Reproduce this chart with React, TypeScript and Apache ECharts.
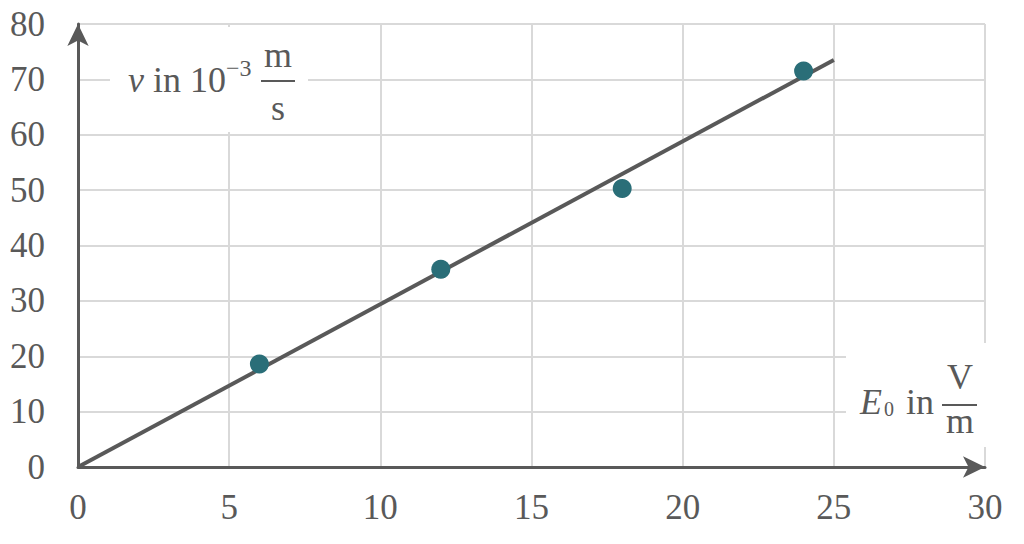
import React, { useEffect, useRef } from "react";
import * as echarts from "echarts";

// Measured data points (E0 in V/m, v in 10^-3 m/s)
const measuredE = [6, 12, 18, 24];
const measuredV = [18.6, 35.7, 50.3, 71.5];
// Proportional fit line endpoints
const fitE = [0, 25];
const fitV = [0, 73.5];
// Axis ranges
const xRange = [0, 30];
const yRange = [0, 80];
const xStep = 5;
const yStep = 10;

const GREY = "#595959";
const GRID = "#d9d9d9";
const TEAL = "#2a6e78";
const FONT = "'Liberation Serif', 'Times New Roman', serif";

export default function App() {
  const ref = useRef<HTMLDivElement>(null);

  useEffect(() => {
    const chart = echarts.init(ref.current!, null, { renderer: "svg" });

    const axisCommon = {
      type: "value" as const,
      axisLine: {
        show: true,
        onZero: true,
        lineStyle: { color: GREY, width: 3 },
        symbol: ["none", "arrow"],
        symbolSize: [16, 22],
      },
      axisTick: { show: false },
      splitLine: { show: true, lineStyle: { color: GRID, width: 2 } },
    };

    const txt = (
      text: string,
      x: number,
      y: number,
      size: number,
      opts: { italic?: boolean; align?: string } = {}
    ) => ({
      type: "text",
      x,
      y,
      z: 10,
      style: {
        text,
        fill: GREY,
        fontFamily: FONT,
        fontSize: size,
        fontStyle: opts.italic ? "italic" : "normal",
        align: opts.align || "left",
        verticalAlign: "middle",
      },
    });

    chart.setOption({
      animation: false,
      backgroundColor: "#ffffff",
      grid: { left: 78, right: 39, top: 24, bottom: 77 },
      xAxis: {
        ...axisCommon,
        min: xRange[0],
        max: xRange[1],
        interval: xStep,
        axisLabel: {
          color: GREY,
          fontFamily: FONT,
          fontSize: 35,
          margin: 23,
        },
      },
      yAxis: {
        ...axisCommon,
        min: yRange[0],
        max: yRange[1],
        interval: yStep,
        axisLabel: {
          color: GREY,
          fontFamily: FONT,
          fontSize: 35,
          margin: 33,
        },
      },
      series: [
        {
          type: "line",
          data: fitE.map((e, i) => [e, fitV[i]]),
          showSymbol: false,
          lineStyle: { color: GREY, width: 4 },
          z: 3,
        },
        {
          type: "scatter",
          data: measuredE.map((e, i) => [e, measuredV[i]]),
          symbolSize: 19,
          itemStyle: { color: TEAL, opacity: 1 },
          z: 4,
        },
      ],
      graphic: [
        // y-axis title box
        {
          type: "rect",
          z: 9,
          shape: { x: 110, y: 27, width: 198, height: 105 },
          style: { fill: "#ffffff" },
        },
        txt("v", 128, 80, 36, { italic: true }),
        txt("in 10", 153, 80, 36),
        txt("\u22123", 226, 68, 24),
        txt("m", 278, 55, 36, { align: "center" }),
        {
          type: "line",
          z: 10,
          shape: { x1: 261, y1: 81, x2: 295, y2: 81 },
          style: { stroke: GREY, lineWidth: 2 },
        },
        txt("s", 278, 108, 36, { align: "center" }),
        // x-axis title box
        {
          type: "rect",
          z: 9,
          shape: { x: 846, y: 343, width: 170, height: 104 },
          style: { fill: "#ffffff" },
        },
        txt("E", 860, 402, 36, { italic: true }),
        txt("0", 884, 409, 20),
        txt("in", 906, 402, 36),
        txt("V", 960, 377, 36, { align: "center" }),
        {
          type: "line",
          z: 10,
          shape: { x1: 942, y1: 405, x2: 977, y2: 405 },
          style: { stroke: GREY, lineWidth: 2 },
        },
        txt("m", 960, 421, 36, { align: "center" }),
      ],
    });

    return () => chart.dispose();
  }, []);

  return (
    <div
      ref={ref}
      style={{ position: "fixed", left: 0, top: 0, width: 1024, height: 544 }}
    />
  );
}
